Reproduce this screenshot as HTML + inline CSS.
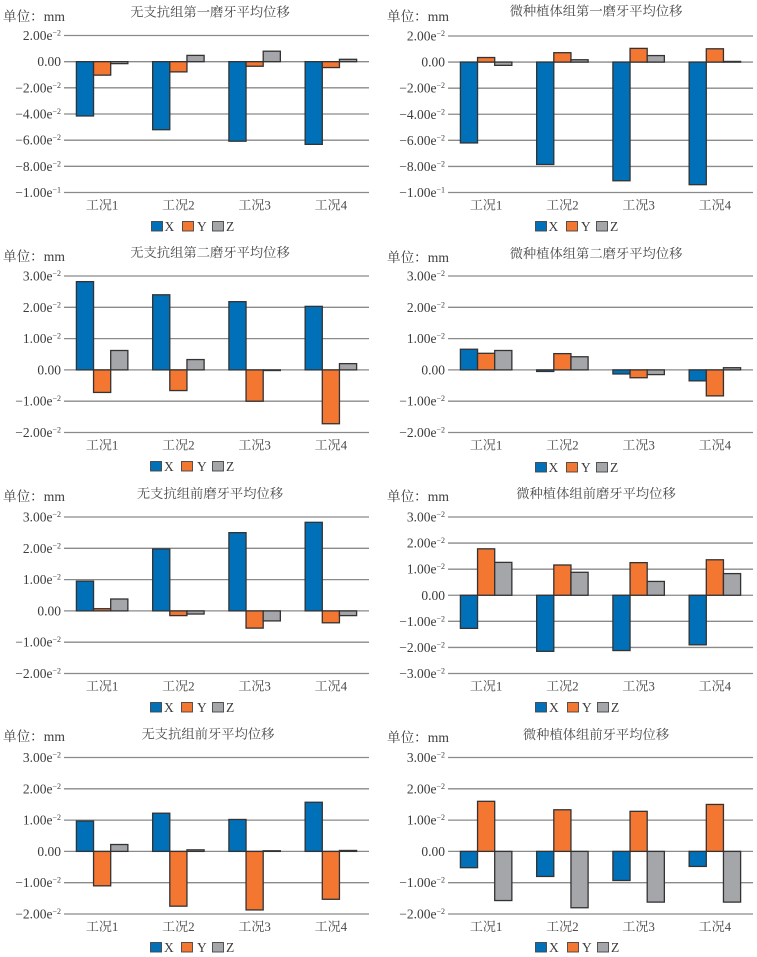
<!DOCTYPE html>
<html lang="zh">
<head>
<meta charset="utf-8">
<title>平均位移图</title>
<style>
html,body{margin:0;padding:0;background:#fff;}
svg{display:block;}
text{font-family:"Liberation Serif","Noto Serif CJK SC",serif;fill:#4a4a4a;}
.title{font-size:13.3px;text-anchor:middle;}
.unit{font-size:13.6px;fill:#3c3c3c;}
.tick{font-size:13.5px;text-anchor:end;fill:#3c3c3c;}
.cat{font-size:13px;text-anchor:middle;}
.leg{font-size:13.5px;fill:#3c3c3c;}
.sw{stroke:#444;stroke-width:.9;width:11px;height:9.5px;}
</style>
</head>
<body>
<svg id="figure" xmlns="http://www.w3.org/2000/svg" width="757" height="957" viewBox="0 0 757 957">
  <g id="p1">
    <text class="title" x="210" y="16.5">无支抗组第一磨牙平均位移</text>
    <text class="unit" x="3" y="21">单位：mm</text>
    <g>
      <rect class="sw" x="151.5" y="221.5" fill="#0070b8"/><text class="leg" x="164.5" y="231">X</text>
      <rect class="sw" x="182.5" y="221.5" fill="#f37631"/><text class="leg" x="197" y="231">Y</text>
      <rect class="sw" x="212.5" y="221.5" fill="#a5a6aa"/><text class="leg" x="226" y="231">Z</text>
    </g>
  </g>
  <g id="p2">
    <text class="title" x="596" y="15.5">微种植体组第一磨牙平均位移</text>
    <text class="unit" x="387" y="21">单位：mm</text>
    <g>
      <rect class="sw" x="535.5" y="221.5" fill="#0070b8"/><text class="leg" x="548.5" y="231">X</text>
      <rect class="sw" x="566.5" y="221.5" fill="#f37631"/><text class="leg" x="581" y="231">Y</text>
      <rect class="sw" x="596.5" y="221.5" fill="#a5a6aa"/><text class="leg" x="610" y="231">Z</text>
    </g>
  </g>
  <g id="p3">
    <text class="title" x="210" y="257">无支抗组第二磨牙平均位移</text>
    <text class="unit" x="3" y="261">单位：mm</text>
    <g>
      <rect class="sw" x="150.5" y="461.5" fill="#0070b8"/><text class="leg" x="164" y="471">X</text>
      <rect class="sw" x="181.5" y="461.5" fill="#f37631"/><text class="leg" x="197" y="471">Y</text>
      <rect class="sw" x="212.5" y="461.5" fill="#a5a6aa"/><text class="leg" x="226" y="471">Z</text>
    </g>
  </g>
  <g id="p4">
    <text class="title" x="596" y="258">微种植体组第二磨牙平均位移</text>
    <text class="unit" x="387" y="262">单位：mm</text>
    <g>
      <rect class="sw" x="535.5" y="462.5" fill="#0070b8"/><text class="leg" x="548.5" y="472">X</text>
      <rect class="sw" x="566.5" y="462.5" fill="#f37631"/><text class="leg" x="581" y="472">Y</text>
      <rect class="sw" x="596.5" y="462.5" fill="#a5a6aa"/><text class="leg" x="610" y="472">Z</text>
    </g>
  </g>
  <g id="p5">
    <text class="title" x="210" y="498">无支抗组前磨牙平均位移</text>
    <text class="unit" x="3" y="501">单位：mm</text>
    <g>
      <rect class="sw" x="150.5" y="702.5" fill="#0070b8"/><text class="leg" x="164" y="712">X</text>
      <rect class="sw" x="181.5" y="702.5" fill="#f37631"/><text class="leg" x="197" y="712">Y</text>
      <rect class="sw" x="212.5" y="702.5" fill="#a5a6aa"/><text class="leg" x="226" y="712">Z</text>
    </g>
  </g>
  <g id="p6">
    <text class="title" x="596" y="498">微种植体组前磨牙平均位移</text>
    <text class="unit" x="387" y="501">单位：mm</text>
    <g>
      <rect class="sw" x="535.5" y="702.5" fill="#0070b8"/><text class="leg" x="549" y="712">X</text>
      <rect class="sw" x="567.5" y="702.5" fill="#f37631"/><text class="leg" x="582" y="712">Y</text>
      <rect class="sw" x="597.5" y="702.5" fill="#a5a6aa"/><text class="leg" x="611" y="712">Z</text>
    </g>
  </g>
  <g id="p7">
    <text class="title" x="208" y="738.5">无支抗组前牙平均位移</text>
    <text class="unit" x="3" y="741">单位：mm</text>
    <g>
      <rect class="sw" x="150.5" y="942.5" fill="#0070b8"/><text class="leg" x="164" y="952">X</text>
      <rect class="sw" x="181.5" y="942.5" fill="#f37631"/><text class="leg" x="197" y="952">Y</text>
      <rect class="sw" x="212.5" y="942.5" fill="#a5a6aa"/><text class="leg" x="226" y="952">Z</text>
    </g>
  </g>
  <g id="p8">
    <text class="title" x="596" y="739">微种植体组前牙平均位移</text>
    <text class="unit" x="387" y="742">单位：mm</text>
    <g>
      <rect class="sw" x="535.5" y="942.5" fill="#0070b8"/><text class="leg" x="549" y="952">X</text>
      <rect class="sw" x="567.5" y="942.5" fill="#f37631"/><text class="leg" x="582" y="952">Y</text>
      <rect class="sw" x="597.5" y="942.5" fill="#a5a6aa"/><text class="leg" x="611" y="952">Z</text>
    </g>
  </g>
</svg>
<script>
// Shared categories (values below are in units of 1e-2 mm)
var categories = ['工况1', '工况2', '工况3', '工况4'];
var seriesNames = ['x', 'y', 'z'];

// Tick values and labels
var ticksFirstMolar = [2, 0, -2, -4, -6, -8, -10];
var labelsFirstMolar = ['2.00e−2', '0.00', '−2.00e−2', '−4.00e−2', '−6.00e−2', '−8.00e−2', '−1.00e−1'];
var ticksStandard = [3, 2, 1, 0, -1, -2];
var labelsStandard = ['3.00e−2', '2.00e−2', '1.00e−2', '0.00', '−1.00e−2', '−2.00e−2'];
var ticksSymmetric = [3, 2, 1, 0, -1, -2, -3];
var labelsSymmetric = ['3.00e−2', '2.00e−2', '1.00e−2', '0.00', '−1.00e−2', '−2.00e−2', '−3.00e−2'];

// Panel 1: no-anchorage first molar
var p1X = [-4.15, -5.2, -6.08, -6.32];
var p1Y = [-1.03, -0.78, -0.35, -0.45];
var p1Z = [-0.15, 0.48, 0.8, 0.18];
// Panel 2: micro-implant first molar
var p2X = [-6.2, -7.85, -9.1, -9.4];
var p2Y = [0.35, 0.72, 1.05, 1.02];
var p2Z = [-0.25, 0.18, 0.5, 0.05];
// Panel 3: no-anchorage second molar
var p3X = [2.82, 2.4, 2.18, 2.03];
var p3Y = [-0.72, -0.66, -1.0, -1.72];
var p3Z = [0.62, 0.33, -0.02, 0.2];
// Panel 4: micro-implant second molar
var p4X = [0.66, -0.05, -0.13, -0.35];
var p4Y = [0.53, 0.52, -0.25, -0.83];
var p4Z = [0.62, 0.42, -0.15, 0.07];
// Panel 5: no-anchorage premolar
var p5X = [0.95, 1.98, 2.5, 2.83];
var p5Y = [0.07, -0.15, -0.55, -0.38];
var p5Z = [0.38, -0.1, -0.32, -0.15];
// Panel 6: micro-implant premolar
var p6X = [-1.27, -2.15, -2.12, -1.9];
var p6Y = [1.78, 1.16, 1.25, 1.36];
var p6Z = [1.26, 0.88, 0.53, 0.83];
// Panel 7: no-anchorage anterior
var p7X = [0.97, 1.22, 1.02, 1.57];
var p7Y = [-1.1, -1.75, -1.87, -1.53];
var p7Z = [0.22, 0.05, 0.02, 0.03];
// Panel 8: micro-implant anterior
var p8X = [-0.52, -0.8, -0.93, -0.48];
var p8Y = [1.6, 1.33, 1.28, 1.5];
var p8Z = [-1.57, -1.8, -1.62, -1.62];

var NS = 'http://www.w3.org/2000/svg';
var colors = ['#0070b8', '#f37631', '#a5a6aa'];

function make(parent, tag, attrs) {
  var el = document.createElementNS(NS, tag);
  for (var k in attrs) { el.setAttribute(k, attrs[k]); }
  parent.appendChild(el);
  return el;
}

function drawPanel(id, left, right, top, bottom, ticks, labels, series) {
  var root = document.getElementById(id);
  var maxV = Math.max.apply(null, ticks);
  var minV = Math.min.apply(null, ticks);
  var yScale = function (v) { return top + (maxV - v) / (maxV - minV) * (bottom - top); };
  var band = (right - left) / categories.length;
  var barW = band * 0.225;
  var xScale = function (c, s) { return left + band * (c + 0.5) + barW * (s - 1.5); };

  ticks.forEach(function (t, i) {
    var line = make(root, 'line', { x1: left, x2: right, y1: yScale(t), y2: yScale(t), stroke: '#8a8a8a', 'stroke-width': 1.3 });
    
    
    var parts = labels[i].split('e');
    var label = make(root, 'text', { 'class': 'tick', x: left - 3, y: yScale(t) + 4.5 });
    
    
    label.appendChild(document.createTextNode(parts.length > 1 ? parts[0] + 'e' : parts[0]));
    if (parts.length > 1) {
      var sup = make(label, 'tspan', { dy: -4.5, 'font-size': 8 });
      sup.textContent = parts[1];
    }
  });

  categories.forEach(function (name, c) {
    var cat = make(root, 'text', { 'class': 'cat', x: left + band * (c + 0.5), y: bottom + 17 });
    
    
    cat.textContent = name;
    series.forEach(function (vals, s) {
      var y0 = yScale(0), y1 = yScale(vals[c]);
      var bar = make(root, 'rect', {
        x: xScale(c, s), y: Math.min(y0, y1), width: barW, height: Math.abs(y1 - y0),
        fill: colors[s], stroke: '#333', 'stroke-width': 1.3
      });
      
      
    });
  });
}

drawPanel('p1', 64, 369, 35.5, 192.5, ticksFirstMolar, labelsFirstMolar, [p1X, p1Y, p1Z]);
drawPanel('p2', 448, 753, 36, 192.5, ticksFirstMolar, labelsFirstMolar, [p2X, p2Y, p2Z]);
drawPanel('p3', 64, 369, 276, 432.5, ticksStandard, labelsStandard, [p3X, p3Y, p3Z]);
drawPanel('p4', 448, 753, 276, 432.5, ticksStandard, labelsStandard, [p4X, p4Y, p4Z]);
drawPanel('p5', 64, 369, 517, 673.5, ticksStandard, labelsStandard, [p5X, p5Y, p5Z]);
drawPanel('p6', 448, 753, 517, 673.5, ticksSymmetric, labelsSymmetric, [p6X, p6Y, p6Z]);
drawPanel('p7', 64, 369, 757.5, 914, ticksStandard, labelsStandard, [p7X, p7Y, p7Z]);
drawPanel('p8', 448, 753, 757.5, 914, ticksStandard, labelsStandard, [p8X, p8Y, p8Z]);
</script>
</body>
</html>
